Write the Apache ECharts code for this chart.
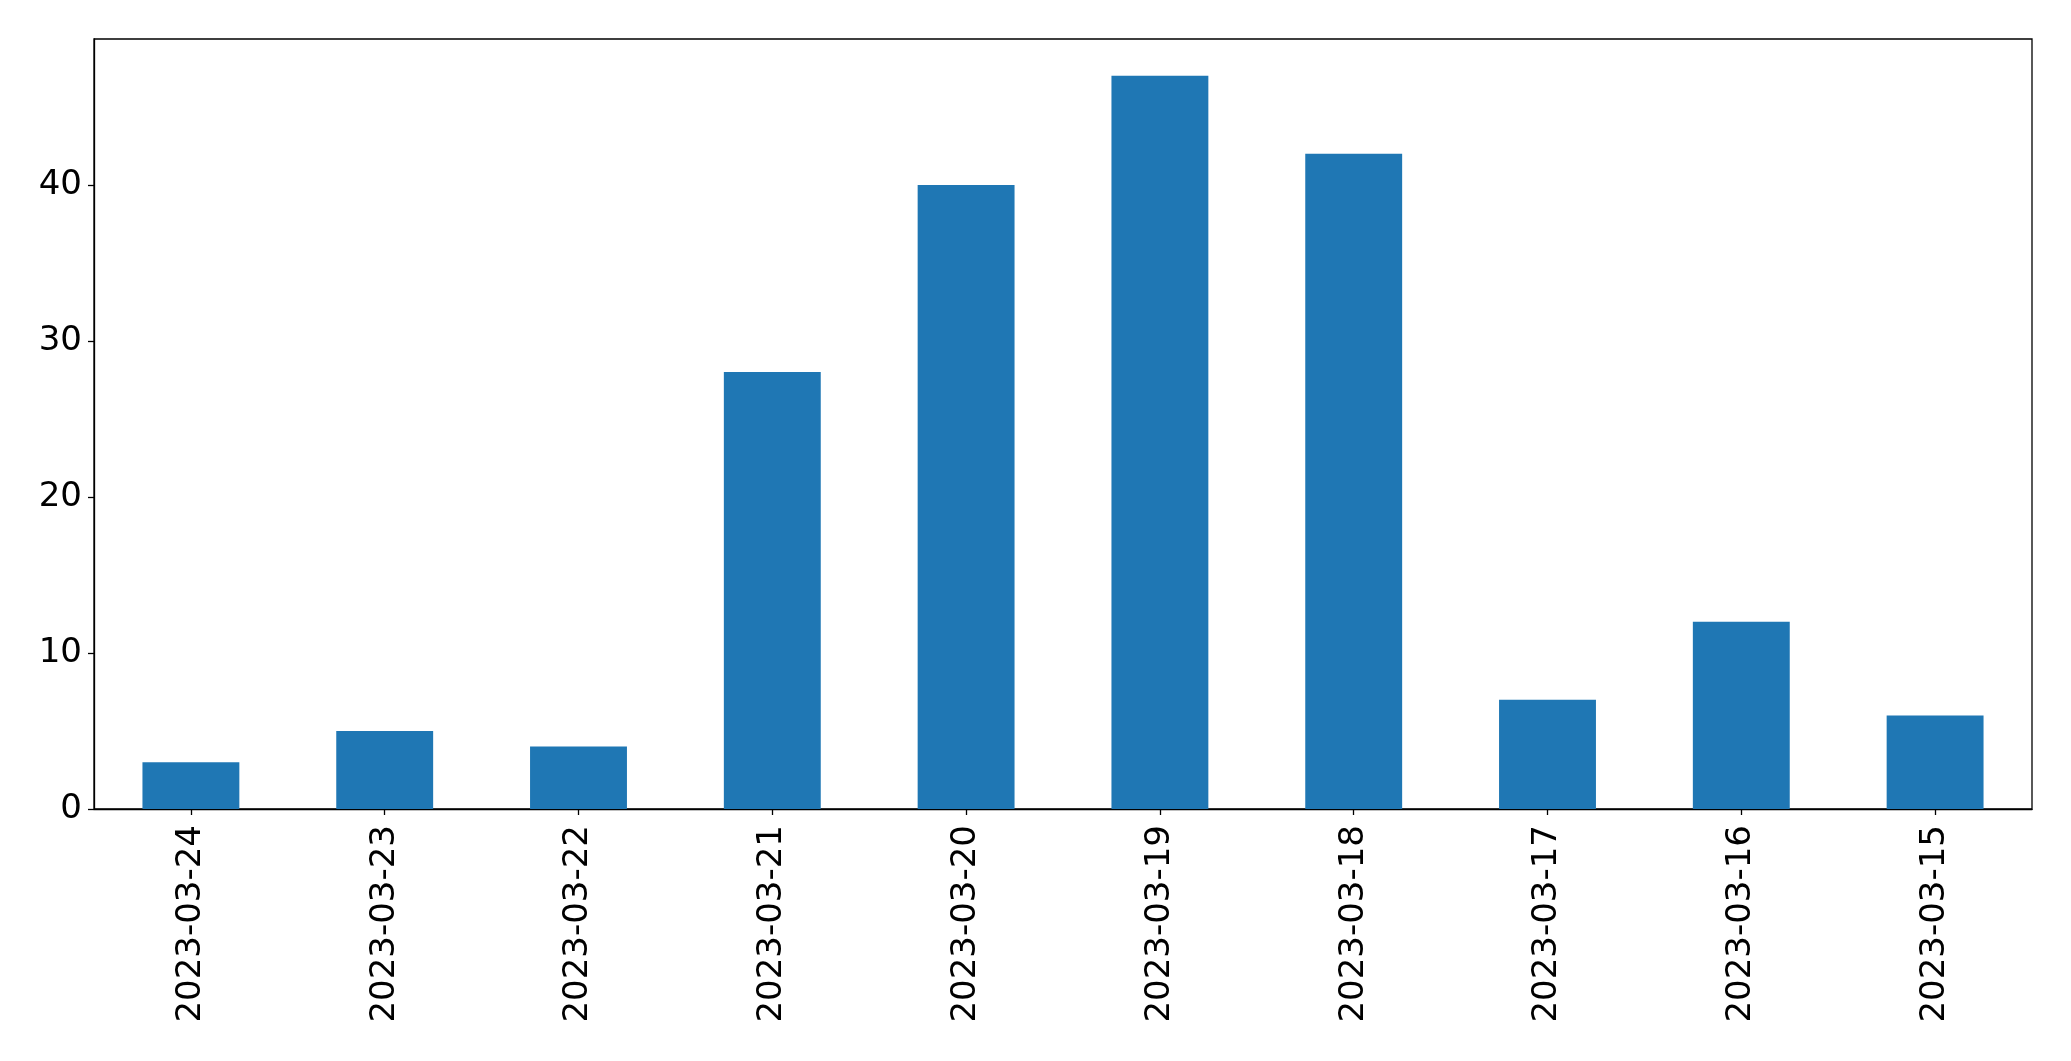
<!DOCTYPE html>
<html>
<head>
<meta charset="utf-8">
<script src="https://cdn.jsdelivr.net/npm/echarts@6/dist/echarts.min.js"></script>
<style>
html,body{margin:0;padding:0;background:#fff;}
#chart{width:2071px;height:1061px;}
</style>
</head>
<body>
<div id="chart"></div>
<script>
const categories = ['2023-03-24','2023-03-23','2023-03-22','2023-03-21','2023-03-20','2023-03-19','2023-03-18','2023-03-17','2023-03-16','2023-03-15'];
const values = [3, 5, 4, 28, 40, 47, 42, 7, 12, 6];
const yTicks = [0, 10, 20, 30, 40];
const yMax = 49.35;

const chart = echarts.init(document.getElementById('chart'), null, {renderer: 'canvas'});
chart.setOption({
  animation: false,
  backgroundColor: '#ffffff',
  grid: {
    left: 94, right: 39, top: 39, bottom: 252,
    show: true, borderColor: '#000000', borderWidth: 1.3, backgroundColor: 'transparent'
  },
  xAxis: {
    type: 'category',
    data: categories,
    axisLine: {show: true, lineStyle: {color: '#000000', width: 1.3}},
    axisTick: {show: true, alignWithLabel: true, length: 6, lineStyle: {color: '#000000', width: 1.3}},
    axisLabel: {
      rotate: 90, interval: 0, margin: 16,
      fontFamily: 'DejaVu Sans', fontSize: 34, color: '#000000'
    },
    splitLine: {show: false}
  },
  yAxis: {
    type: 'value',
    min: 0, max: yMax, interval: 10,
    axisLine: {show: true, lineStyle: {color: '#000000', width: 1.3}},
    axisTick: {show: true, length: 6, customValues: yTicks, lineStyle: {color: '#000000', width: 1.3}},
    axisLabel: {
      customValues: yTicks, margin: 12,
      fontFamily: 'DejaVu Sans', fontSize: 34, color: '#000000'
    },
    splitLine: {show: false}
  },
  series: [{
    type: 'bar',
    data: values,
    barWidth: '50%',
    itemStyle: {color: '#1f77b4'}
  }]
});
</script>
</body>
</html>
